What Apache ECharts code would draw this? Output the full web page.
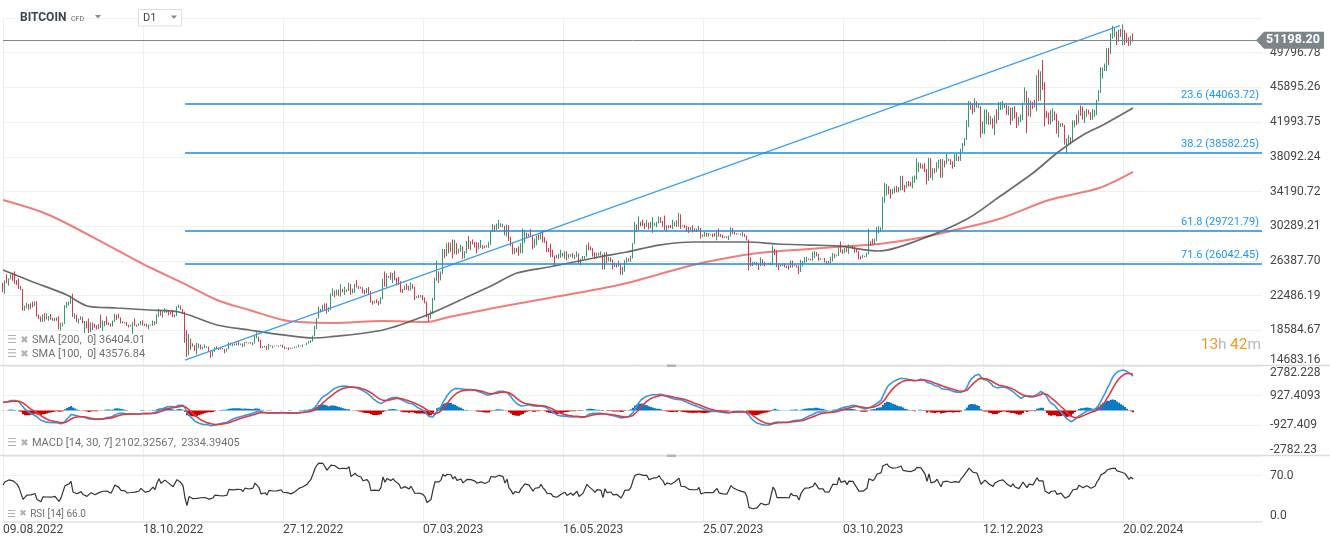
<!DOCTYPE html>
<html><head><meta charset="utf-8">
<script src="https://cdn.jsdelivr.net/npm/echarts@6/dist/echarts.min.js"></script>
<style>html,body{margin:0;padding:0;background:#fff;}#c{width:1330px;height:547px;}</style>
</head><body><div id="c"></div>
<script>
// ---------------- DATA ----------------
const xTickLabels = ['09.08.2022','18.10.2022','27.12.2022','07.03.2023','16.05.2023','25.07.2023','03.10.2023','12.12.2023','20.02.2024'];
const xTickStep = 70; // days between date labels
const priceTickLabels = ['14683.16','18584.67','22486.19','26387.70','30289.21','34190.72','38092.24','41993.75','45895.26','49796.78'];
const macdTickLabels = ['-2782.23','-927.409','927.4093','2782.228'];
const rsiTickLabels = {0:'0.0', 70:'70.0'};

// closes of the days before the visible window (indicator warm-up only, not drawn)
const warmupCloses = [20850,19970,19330,20210,20570,20830,21200,20790,22430,23400,23230,23160,22680,22470,22580,21310,21250,22950,23840,23800,23650,23300,23270,22980,22820,22630,23290,22960,23180];
const firstOpen = 23810;
// daily closes from 09.08.2022
const closes = [
23160,23950,23940,24400,24440,24300,24100,23850,23340,23210,20830,21140,21520,21400,21530,21370,21680,20240,20040,19550,20280,19810,20050,
20130,19950,19830,20000,19800,18840,19290,19320,21360,21650,21780,22400,20170,20240,19700,19800,20110,19420,19540,18880,18550,19410,19300,18930,18800,19230,19080,19410,19590,19430,
19310,19050,19630,20340,20160,19960,19530,19420,19450,19140,19050,19160,19380,19180,19070,19270,19550,19330,19130,19050,19170,19200,19570,19330,20090,20770,20290,20600,20820,20630,20490,
20480,20160,20210,21150,21300,20900,20590,18540,15880,17590,17070,16810,16330,16620,16900,16660,16690,16700,16710,16290,15780,16190,16610,16600,16520,16460,16440,16220,16440,17170,
16970,17090,16890,17110,16970,17090,16840,17220,17130,17130,17090,17210,17780,17810,17360,16630,16780,16740,16440,16900,16820,16830,16780,16840,16840,16920,16710,16550,16640,16600,16540,
16620,16670,16680,16860,16830,16950,16950,17090,17200,17440,17940,18850,19930,20950,20880,21170,21160,20690,21070,22670,22780,22710,22920,22630,23060,23010,23080,23030,23770,22840,23140,
23730,23490,23430,23330,22940,22760,23260,22960,21800,21630,21860,21790,21780,22200,24330,23520,24570,24630,24280,24840,24440,24190,23950,23200,23160,23550,23490,23150,
23650,23480,22360,22350,22430,22410,22200,21720,20360,20190,20630,22160,24200,24750,24380,25050,27420,26970,28040,27770,28180,27310,28330,27490,27490,27990,27140,27270,28350,28030,28480,
28470,28200,27800,28170,28180,28040,27920,27950,28330,29650,30240,29890,30400,30490,30320,30320,29450,30400,28820,28250,27280,27820,27590,27520,28310,28420,29470,29340,29250,29230,
28090,28680,29030,28850,29530,28900,28450,27690,27660,27620,26990,26800,26780,26930,27170,27030,27400,26830,26890,27120,26750,26850,27230,26330,26480,26720,26870,28090,27750,27700,27220,
26820,27250,27070,27120,25760,27240,26350,26500,26480,25840,25940,25900,25920,25120,25580,26330,26510,26340,26840,28310,30000,29890,30690,30550,30470,30270,30690,30080,30450,30480,
30590,30620,31160,30770,30510,29900,30350,30290,30170,30410,30620,30390,31480,30320,30290,30250,30140,29860,29910,29800,29910,29800,30080,29180,29230,29350,29220,29310,29350,29280,29230,
29680,29180,29170,29060,29060,29040,29180,29770,29580,29430,29400,29420,29280,29410,29170,28700,26660,26050,26100,26190,26120,26040,26430,26160,26060,26010,26090,26110,27720,27300,25930,
25800,25870,25970,25810,25780,25750,26240,25900,25900,25830,25160,25840,26230,26540,26600,26570,26530,26760,27210,27130,26570,26580,26580,26250,26300,26220,26370,27020,26910,26970,
27990,27530,27430,27800,27410,27950,27970,27940,27590,27390,26880,26760,26860,26860,27160,28520,28420,28330,28720,29680,29920,29990,33090,33900,34500,34160,33910,34090,34540,34500,34670,
35440,34940,34730,35080,35050,35040,35420,35630,36700,37310,37130,37060,36500,35540,37880,36160,36600,36580,37390,37480,35810,37420,37290,37720,37800,37480,37250,37830,37860,37710,
38690,39480,39980,41980,44080,43770,43290,44170,43730,43790,41240,41450,42890,43020,41930,42240,41360,42620,42270,43650,43870,43990,43740,43020,43610,42520,43440,42590,42070,42140,42280,
44180,44940,42850,44180,44160,43970,43930,46970,46110,46630,46340,42890,42840,41800,42510,43150,42740,41260,41620,41660,41580,39510,39850,40080,39930,41820,42120,42030,43300,42950,42580,
43080,43190,42990,42580,42660,43090,44320,45300,47150,47770,48290,49960,49700,51800,51910,52160,51660,52120,51780,52280,51840,51300,50730,51570,51198.2
];
const highs = [
23930,24210,24880,24440,24870,25050,25200,24240,24420,23580,23240,21360,21680,21550,21620,21810,21800,21880,20350,20140,20380,20540,20470,
20200,20430,19960,20000,20030,20160,19440,19440,21420,21780,21820,22450,22700,20500,20330,19880,20170,20100,19630,19620,19910,19480,19440,19300,19160,19290,20340,19700,19630,20150,
19470,19360,19680,20450,20350,20440,20040,19600,19520,19520,19230,19220,19500,19920,19220,19350,19650,19700,19340,19330,19240,19250,19680,19600,20390,21000,20850,20730,21080,20920,20800,
20650,20800,20390,21280,21470,21360,20980,20680,18590,18160,17630,17120,16910,17170,17100,16990,16760,17000,16800,16750,16290,16280,16680,16790,16590,16660,16610,16480,16530,17220,
17200,17100,17100,17190,17400,17100,17100,17260,17300,17220,17260,17240,18000,18370,17850,17530,16800,16830,16810,17040,16900,16860,16870,16860,16870,16940,16960,16780,16650,16650,16630,
16630,16760,16760,16990,16880,16990,16960,17180,17390,17480,17990,19100,19960,21260,20990,21440,21600,21620,21170,22740,23300,23060,23140,23160,23780,23250,23480,23160,23940,23800,23280,
23800,24240,23580,23470,23420,23140,23350,23450,22990,21900,21890,22060,21890,22300,24360,25200,24970,24700,25100,25030,25240,24480,24580,24120,23220,23620,23830,23590,
23980,23780,23480,22400,22590,22540,22540,22290,21810,20280,20790,22220,24500,26400,25200,25210,27740,27720,28360,28470,28440,28800,28760,28380,27760,28200,28020,27500,28630,29170,28640,
28800,28530,28490,28440,28740,28180,28090,28130,28520,29770,30520,30410,30580,31000,30620,30550,30310,30470,30410,29080,28370,27880,27830,28000,28380,30020,29850,29570,29440,29960,
29330,28880,29240,29370,29660,29820,29070,28660,27820,28320,27640,26980,27050,27190,27640,27270,27470,27470,27170,27150,27270,27040,27460,27230,26650,26930,26950,28200,28450,28040,27830,
27360,27300,27300,27460,27130,27340,27370,26810,26780,26530,26200,26080,26420,26080,25740,26470,26770,26680,26980,28390,30790,30490,31390,30790,31000,30640,31000,30700,30780,31280,
30650,30790,31380,31320,30880,31480,30440,30380,30440,31030,30800,30970,31800,31630,30390,30440,30330,30220,30200,30390,30050,29990,30340,30090,29360,29660,29560,29530,29410,29450,29510,
29730,30020,29400,29310,29110,29170,29240,30180,30080,29680,29510,29460,29450,29640,29440,29230,28780,26780,26270,26280,26260,26130,26780,26550,26280,26110,26160,26210,28120,27760,27560,
26120,25950,26070,26080,25850,25880,26410,26420,25930,25910,25870,26510,26380,26810,26860,26650,26620,27410,27480,27380,27160,26720,26610,26710,26420,26380,26820,27290,27210,27080,
28050,28580,27660,27830,28110,28250,28020,28100,27990,27720,27480,26900,27090,26960,27290,30000,28610,28880,28900,30200,30300,30160,33560,35150,35030,34800,34450,34480,34740,34820,34700,
35950,35960,34940,35270,35360,35260,35880,35980,37930,37490,37380,37230,37410,36730,37980,37930,36820,36810,37480,37760,37830,37850,37650,38410,37880,37830,37570,38370,38400,38150,
38980,39650,40190,42180,44380,44270,44040,44670,44330,44020,43780,42090,43430,43410,43090,42700,42430,42730,43440,44250,44250,44350,43970,43940,43800,43620,43680,43790,43110,42590,42880,
44200,45900,45500,44740,44400,44250,44500,47250,47900,47700,48970,46500,43250,43050,43330,43540,43190,42930,42140,41870,41880,41670,40140,40520,40280,42200,42190,42840,43310,43850,43740,
43250,43480,43380,43110,43480,43370,44500,45580,48180,48120,48580,50320,50330,52010,52820,52570,52170,52360,52480,52980,52360,52020,51520,51680,51950
];
const lows = [
22880,22690,23860,23600,24310,24160,23800,23690,23230,23120,20790,20770,21070,20890,20960,21150,21310,20120,19850,19540,19520,19560,19790,
19650,19780,19660,19600,19650,18680,18560,19010,19300,21110,21360,21570,20080,19860,19510,19330,19760,19380,18270,18790,18270,18400,18620,18860,18680,18690,18850,18510,19030,19190,
19170,18980,19000,19520,19760,19920,19370,19370,19330,19060,18900,18990,18190,19080,18990,19070,19200,19110,19070,18940,18700,19110,19070,19160,19300,20070,20230,20020,20560,20550,20250,
20380,20060,20050,20190,21090,20890,20420,17170,15590,15750,16400,16750,16270,15870,16570,16450,16420,16560,16620,16260,15480,15630,16170,16480,16360,16420,16440,16000,16200,16440,
16880,16790,16880,16890,16910,16910,16690,16780,17120,17090,17080,16880,17090,17670,17280,16580,16590,16670,16400,16400,16760,16560,16770,16780,16740,16800,16630,16470,16510,16360,16490,
16500,16570,16620,16660,16770,16720,16910,16920,17080,17150,17320,17910,18720,19890,20600,20700,20850,20450,20660,20870,22440,22310,22500,22460,22370,22850,22560,22890,23000,22580,22730,
22790,23380,23210,23270,22760,22640,22750,22680,21690,21460,21600,21640,21380,21540,22060,23510,23380,24460,24270,23900,24210,23640,23660,22850,22780,23080,23160,23050,
23030,23250,22000,22230,22200,22290,21970,21620,20060,19570,19900,20430,21940,24150,23910,24200,24920,26690,26900,27220,27400,26670,27150,27090,27210,27440,26600,26670,27240,27730,27560,
28240,27890,27220,27680,27840,27740,27810,27890,27850,28180,29630,29690,29830,29960,30220,30150,29270,29110,28620,28040,27130,27150,27340,26970,27230,27250,28380,28930,29100,29090,
27690,27900,28140,28710,28820,28470,28430,27360,27390,26820,26790,25870,26700,26610,26740,26880,26620,26450,26680,26850,26700,26570,26800,26120,25880,26360,26610,26850,27580,27600,26860,
26620,26630,26990,26990,25430,25400,26140,26320,26280,25430,25700,25650,25740,24850,24810,25180,26170,26300,26300,26660,28280,29610,29820,30280,30330,29950,30220,29930,30060,29550,
30340,30170,30580,30650,30230,29850,29700,30050,30060,29960,30300,30210,30250,29980,30260,30070,29680,29530,29770,29600,29730,29650,29740,28880,29070,29090,29120,29120,29260,29050,29120,
28700,29090,29080,28960,28970,28980,28730,29110,29420,29350,29330,29380,29270,29140,29080,28690,25310,25800,25810,26010,25880,25370,25810,25860,25780,25990,25970,25880,25920,27060,25690,
25360,25740,25810,25660,25590,25400,25620,25650,25800,25620,24920,25130,25770,26130,26260,26490,26430,26420,26700,26900,26400,26500,26540,26210,25990,26110,26130,26340,26680,26890,
26950,27340,27160,27260,27380,27180,27850,27730,27300,27330,26560,26560,26690,26820,26800,27120,28100,28190,28170,28630,29470,29660,29900,32900,33720,33870,33400,33860,34000,34100,34090,
34330,34350,34110,34560,34760,34750,34540,35150,35530,36350,36780,36750,36370,34970,35370,35700,35460,36250,36390,36760,35740,35730,36900,37260,37610,37180,36760,36940,37620,37590,
37630,38660,39290,39970,41430,43390,42870,43100,43610,43580,40250,40700,40650,41760,41680,41700,41260,40530,41830,42220,43340,43430,43580,42800,42760,41700,42130,42380,41330,41620,41980,
42190,44180,40750,42640,42580,43460,43650,43200,44350,44400,45610,41500,42440,41720,41740,42050,42200,40690,40280,41450,41490,39450,38520,39500,39500,39820,41390,41630,41820,42700,42280,
41880,42580,42860,42220,42260,42590,42790,44330,45260,46880,47730,47730,48390,49640,51350,51550,50650,51020,51570,50640,50650,50910,50560,50620,51050
];
// moving averages: [day index, value]
const sma100 = [[0,25360],[15,24020],[32,22550],[42,21320],[57,21090],[73,20870],[88,20640],[107,19180],[123,18620],[140,18060],[155,17720],[163,17830],[190,18620],[212,20300],[232,22330],[245,23680],[257,25030],[273,25700],[298,26830],[312,27390],[328,28170],[345,28510],[372,28510],[387,28290],[403,28170],[418,28060],[438,27500],[458,28740],[482,31100],[498,33570],[515,36270],[527,38520],[540,40540],[550,41670],[565,43577]];
const sma200 = [[0,33230],[23,31550],[57,27610],[73,25700],[90,23900],[107,21990],[123,20870],[140,19740],[148,19520],[165,19400],[190,19630],[212,19520],[223,20080],[248,21200],[273,22220],[298,23230],[312,23900],[345,25930],[362,26710],[378,27270],[403,27720],[423,28060],[438,28290],[458,28960],[478,29970],[498,31100],[523,33230],[548,34580],[565,36404]];
const fibLevels = [['23.6',44063.72],['38.2',38582.25],['61.8',29721.79],['71.6',26042.45]];
const fibStartDay = 91;
const trendLine = [[91,15240],[558.5,52830]];
const lastPrice = 51198.20;
const legendSma = ['SMA [200,  0] 36404.01','SMA [100,  0] 43576.84'];
const legendMacd = 'MACD [14, 30, 7] 2102.32567,  2334.39405';
const legendRsi = 'RSI [14] 66.0';

// ---------------- BUILD ----------------
const N = closes.length;
if (highs.length !== N || lows.length !== N) throw new Error('length mismatch ' + N + ' ' + highs.length + ' ' + lows.length);
const FONT = 'Roboto, "DejaVu Sans", sans-serif';
const xMax = 629.5;
const priceMin = 14683.16;
const priceStep = (49796.78 - 14683.16) / 9;
const priceMax = priceMin + priceStep * 10;
const macdMin = -2782.23, macdMax = 2782.228, macdStep = (macdMax - macdMin) / 3;

const candles = closes.map((c, i) => {
  const o = i === 0 ? firstOpen : closes[i - 1];
  return [i, o, c, Math.min(lows[i], o, c), Math.max(highs[i], o, c)];
});
// indicators computed from the closes (with the warm-up days in front)
const W = warmupCloses.length + 1;
const allCloses = warmupCloses.concat([firstOpen], closes);
function ema(src, n) { const k = 2 / (n + 1); const out = []; src.forEach((v, i) => out.push(i === 0 ? v : v * k + out[i - 1] * (1 - k))); return out; }
const e14 = ema(allCloses, 14), e30 = ema(allCloses, 30);
const macdAll = allCloses.map((_, i) => e14[i] - e30[i]);
const sigAll = ema(macdAll, 7);
const macdData = [], sigData = [], histData = [], rsiData = [];
{ let ag = 0, al = 0;
  for (let j = 1; j < allCloses.length; j++) {
    const ch = allCloses[j] - allCloses[j - 1]; const g = Math.max(ch, 0), l = Math.max(-ch, 0);
    if (j <= 14) { ag = (ag * (j - 1) + g) / j; al = (al * (j - 1) + l) / j; }
    else { ag = (ag * 13 + g) / 14; al = (al * 13 + l) / 14; }
    const day = j - W;
    if (day >= 0) {
      rsiData.push([day, al === 0 ? 100 : 100 - 100 / (1 + ag / al)]);
      macdData.push([day, macdAll[j]]);
      sigData.push([day, sigAll[j]]);
      histData.push([day, macdAll[j] - sigAll[j]]);
    }
  } }

const labelRich = {
  n: { fontSize: 12, color: '#444', fontFamily: FONT },
  b: { fontSize: 12, color: '#444', fontFamily: FONT, padding: [0, 0, 11, 0] },
  t: { fontSize: 12, color: '#444', fontFamily: FONT, padding: [13, 0, 0, 0] }
};
function tickFmt(labels, min, step) {
  return v => {
    const k = Math.round((v - min) / step);
    if (Math.abs(v - (min + k * step)) > step * 0.01 || k < 0 || k >= labels.length) return '';
    if (k === 0) return '{b|' + labels[k] + '}';
    if (k === labels.length - 1 && labels === macdTickLabels) return '{t|' + labels[k] + '}';
    return '{n|' + labels[k] + '}';
  };
}
const xCommon = {
  type: 'value', min: 0, max: xMax, interval: xTickStep,
  axisTick: { show: false }, axisLine: { show: false }, axisLabel: { show: false },
  splitLine: { show: true, showMaxLine: false, lineStyle: { color: '#efefef', width: 1 } }
};
const yCommon = {
  type: 'value', position: 'right', axisTick: { show: false }, axisLine: { show: false },
  splitLine: { show: true, lineStyle: { color: '#f0f0f0', width: 1 } }
};
const legendRich = (fs) => ({ i: { fontSize: fs, fill: '#b0b0b0', fontFamily: FONT }, x: { fontSize: fs - 1, fill: '#b0b0b0', fontFamily: FONT }, t: { fontSize: fs, fill: '#707070', fontFamily: FONT } });

const chart = echarts.init(document.getElementById('c'), null, { renderer: 'canvas', width: 1330, height: 547 });
chart.setOption({
  animation: false,
  backgroundColor: '#ffffff',
  grid: [
    { left: 3, right: 68, top: 18, height: 347, outerBoundsMode: 'none' },
    { left: 3, right: 68, top: 366, height: 89, outerBoundsMode: 'none' },
    { left: 3, right: 68, top: 456, height: 65.7, outerBoundsMode: 'none' }
  ],
  xAxis: [
    Object.assign({}, xCommon, { gridIndex: 0 }),
    Object.assign({}, xCommon, { gridIndex: 1 }),
    Object.assign({}, xCommon, {
      gridIndex: 2,
      axisLine: { show: true, lineStyle: { color: '#e2e2e2', width: 1.5 } },
      axisLabel: {
        show: true, align: 'left', margin: 2, color: '#444', fontSize: 12, fontFamily: FONT,
        showMinLabel: true, showMaxLabel: false,
        formatter: v => { const k = v / xTickStep; return (Number.isInteger(k) && k < xTickLabels.length) ? xTickLabels[k] : ''; }
      }
    })
  ],
  yAxis: [
    Object.assign({}, yCommon, { gridIndex: 0, min: priceMin, max: priceMax, interval: priceStep,
      axisLabel: { margin: 8, rich: labelRich, formatter: tickFmt(priceTickLabels, priceMin, priceStep) } }),
    Object.assign({}, yCommon, { gridIndex: 1, min: macdMin, max: macdMax, interval: macdStep,
      axisLabel: { margin: 8, rich: labelRich, formatter: tickFmt(macdTickLabels, macdMin, macdStep) } }),
    Object.assign({}, yCommon, { gridIndex: 2, min: 0, max: 100, interval: 70,
      axisLabel: { margin: 8, rich: labelRich, formatter: v => v === 0 ? '{b|' + rsiTickLabels[0] + '}' : (rsiTickLabels[v] ? '{n|' + rsiTickLabels[v] + '}' : '') } })
  ],
  series: [
    { type: 'line', name: 'SMA200', xAxisIndex: 0, yAxisIndex: 0, data: sma200, smooth: 0.3, symbol: 'none', z: 2,
      lineStyle: { color: 'rgba(236,92,88,0.8)', width: 2 } },
    { type: 'line', name: 'SMA100', xAxisIndex: 0, yAxisIndex: 0, data: sma100, smooth: 0.3, symbol: 'none', z: 2,
      lineStyle: { color: 'rgba(70,70,70,0.8)', width: 1.7 } },
    { type: 'candlestick', name: 'BITCOIN', xAxisIndex: 0, yAxisIndex: 0, data: candles, z: 3,
      encode: { x: 0, y: [1, 2, 3, 4] }, barWidth: 1.1,
      itemStyle: { color: '#1f8d5c', color0: '#d3223a', borderColor: '#1f8d5c', borderColor0: '#d3223a', borderWidth: 0.9 },
      markLine: {
        silent: true, symbol: ['none', 'none'], animation: false,
        data: fibLevels.map(f => [
          { coord: [fibStartDay, f[1]], lineStyle: { color: '#1f88e5', width: 1.5, type: 'solid' },
            label: { show: true, position: 'insideEndTop', formatter: f[0] + ' (' + f[1].toFixed(2) + ')', color: '#2196f3', fontSize: 11, fontFamily: FONT, distance: [3, 3] } },
          { coord: [xMax, f[1]] }
        ]).concat([{ yAxis: lastPrice, lineStyle: { color: '#7c878b', width: 1, type: 'solid' }, label: { show: false } }])
      },
      markPoint: {
        silent: true, animation: false,
        data: [{ coord: [xMax, lastPrice], value: lastPrice }],
        symbol: 'path://M0,8 L8,0 L68,0 L68,16 L8,16 Z', symbolSize: [68, 17], symbolKeepAspect: false,
        symbolOffset: [28, 0],
        itemStyle: { color: '#7b868a' },
        label: { show: true, position: 'inside', offset: [3, 0], formatter: lastPrice.toFixed(2), color: '#ffffff', fontWeight: 'bold', fontSize: 12.5, fontFamily: FONT }
      }
    },
    { type: 'line', name: 'trend', xAxisIndex: 0, yAxisIndex: 0, data: trendLine, symbol: 'none', z: 4,
      lineStyle: { color: '#3d9ef0', width: 1.3 } },
    { type: 'bar', name: 'hist', xAxisIndex: 1, yAxisIndex: 1, data: histData, barWidth: 2, z: 2,
      itemStyle: { color: p => p.value[1] >= 0 ? '#0b7ac2' : '#cc0000' } },
    { type: 'line', name: 'MACD', xAxisIndex: 1, yAxisIndex: 1, data: macdData, symbol: 'none', z: 3,
      lineStyle: { color: '#3b97dd', width: 1.6 } },
    { type: 'line', name: 'Signal', xAxisIndex: 1, yAxisIndex: 1, data: sigData, symbol: 'none', z: 3,
      lineStyle: { color: '#df3a40', width: 1.6 } },
    { type: 'line', name: 'RSI', xAxisIndex: 2, yAxisIndex: 2, data: rsiData, symbol: 'none', z: 3,
      lineStyle: { color: '#333', width: 1.2 } }
  ],
  graphic: [
    { type: 'line', shape: { x1: 0, y1: 365.5, x2: 1330, y2: 365.5 }, style: { stroke: '#dcdcdc', lineWidth: 1.5 }, silent: true, z: 10 },
    { type: 'line', shape: { x1: 0, y1: 455.5, x2: 1330, y2: 455.5 }, style: { stroke: '#dcdcdc', lineWidth: 1.5 }, silent: true, z: 10 },
    { type: 'rect', shape: { x: 667, y: 364.5, width: 9, height: 2.5 }, style: { fill: '#b5b5b5' }, silent: true, z: 11 },
    { type: 'rect', shape: { x: 667, y: 454.5, width: 9, height: 2.5 }, style: { fill: '#b5b5b5' }, silent: true, z: 11 },
    { type: 'text', x: 20, y: 18, style: { text: 'BITCOIN', font: 'bold 12px ' + FONT, fill: '#37474f', verticalAlign: 'middle' }, z: 12 },
    { type: 'text', x: 71, y: 19, style: { text: 'CFD', font: '7px ' + FONT, fill: '#666', verticalAlign: 'middle' }, z: 12 },
    { type: 'polygon', shape: { points: [[95, 15], [101, 15], [98, 18.5]] }, style: { fill: '#8a8a8a' }, z: 12 },
    { type: 'rect', shape: { x: 138.5, y: 9.5, width: 43, height: 16.5 }, style: { fill: '#fff', stroke: '#dddddd', lineWidth: 1 }, z: 12 },
    { type: 'text', x: 143, y: 18, style: { text: 'D1', font: '11px ' + FONT, fill: '#444', verticalAlign: 'middle' }, z: 13 },
    { type: 'polygon', shape: { points: [[171, 15.5], [177, 15.5], [174, 19]] }, style: { fill: '#8a8a8a' }, z: 13 },
    { type: 'text', x: 1261, y: 345, style: { text: '{n|13}{u|h} {n|42}{u|m}', align: 'right', verticalAlign: 'middle',
      rich: { n: { fontSize: 15.5, fill: '#f5961e', fontFamily: FONT }, u: { fontSize: 15.5, fill: '#b8b8b8', fontFamily: FONT } } }, z: 12 },
    { type: 'text', x: 7, y: 340, style: { text: '{i|☰} {x|✖} {t|' + legendSma[0] + '}', verticalAlign: 'middle', rich: legendRich(11) }, z: 12 },
    { type: 'text', x: 7, y: 354, style: { text: '{i|☰} {x|✖} {t|' + legendSma[1] + '}', verticalAlign: 'middle', rich: legendRich(11) }, z: 12 },
    { type: 'text', x: 7, y: 443, style: { text: '{i|☰} {x|✖} {t|' + legendMacd + '}', verticalAlign: 'middle', rich: legendRich(11) }, z: 12 },
    { type: 'text', x: 7, y: 514, style: { text: '{i|☰} {x|✖} {t|' + legendRsi + '}', verticalAlign: 'middle', rich: legendRich(10) }, z: 12 }
  ]
});
</script>
</body></html>
